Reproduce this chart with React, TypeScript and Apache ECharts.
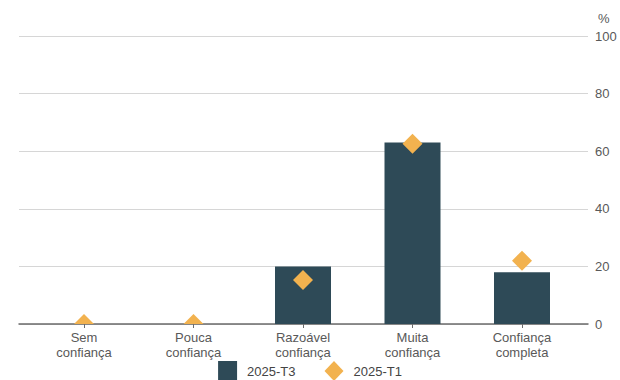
import React, { useEffect, useRef } from "react";
import * as echarts from "echarts";

const categories = ["Sem\nconfiança", "Pouca\nconfiança", "Razoável\nconfiança", "Muita\nconfiança", "Confiança\ncompleta"];
const seriesT3 = [0, 0, 20, 63, 18];
const seriesT1 = [0, 0, 15.3, 62.6, 22];
const yTicks = [0, 20, 40, 60, 80, 100];

const FONT = "'Liberation Sans', Arial, Helvetica, sans-serif";
const BAR_COLOR = "#2e4a57";
const DIAMOND_COLOR = "#f2b24f";
const TEXT_COLOR = "#595959";

export default function App() {
  const ref = useRef<HTMLDivElement>(null);
  useEffect(() => {
    if (!ref.current) return;
    const chart = echarts.init(ref.current, null, { renderer: "svg" });
    const t1Data = seriesT1.map((v, i) => [i, v]);
    chart.setOption({
      animation: false,
      textStyle: { fontFamily: FONT },
      grid: [
        { left: 19, right: 32, top: 36, bottom: 56 },
        { left: 29.25, right: 43.25, top: 36, bottom: 56 },
      ],
      legend: {
        top: 361,
        left: "center",
        padding: 0,
        itemWidth: 19,
        itemHeight: 20,
        itemGap: 29,
        textStyle: { fontFamily: FONT, fontSize: 13, color: "#444", padding: [0, 0, 0, 5] },
        data: [
          { name: "2025-T3", icon: "rect", itemStyle: { color: BAR_COLOR } },
          { name: "2025-T1", icon: "diamond", itemStyle: { color: DIAMOND_COLOR } },
        ],
      },
      xAxis: [
        {
          gridIndex: 0,
          type: "value",
          min: 0,
          max: 1,
          axisLine: { show: true, onZero: false, lineStyle: { color: "#6b6b6b", width: 1.5 } },
          axisTick: { show: false },
          axisLabel: { show: false },
          splitLine: { show: false },
        },
        {
          gridIndex: 1,
          type: "category",
          data: categories,
          axisLine: { show: false, onZero: false },
          axisTick: { show: true, alignWithLabel: true, length: 4, lineStyle: { color: "#6b6b6b" } },
          axisLabel: {
            color: TEXT_COLOR,
            fontSize: 13,
            lineHeight: 15,
            margin: 6,
            fontFamily: FONT,
            interval: 0,
          },
        },
      ],
      yAxis: [
        {
          gridIndex: 0,
          type: "value",
          position: "right",
          min: 0,
          max: 100,
          interval: 20,
          name: "%",
          nameLocation: "end",
          nameGap: 11,
          nameTextStyle: { color: TEXT_COLOR, fontSize: 13, align: "left", padding: [0, 0, 0, 10], fontFamily: FONT },
          axisLine: { show: false, onZero: false },
          axisTick: { show: false },
          axisLabel: {
            color: TEXT_COLOR,
            fontSize: 13,
            margin: 7,
            fontFamily: FONT,
            formatter: (v: number) => (yTicks.includes(v) ? String(v) : ""),
          },
          splitLine: { show: true, lineStyle: { color: "#d6d6d6", width: 1 } },
        },
        {
          gridIndex: 1,
          type: "value",
          min: 0,
          max: 100,
          interval: 20,
          show: false,
          axisLine: { onZero: false },
          splitLine: { show: false },
        },
      ],
      series: [
        {
          name: "2025-T3",
          type: "bar",
          xAxisIndex: 1,
          yAxisIndex: 1,
          data: seriesT3,
          barWidth: 56,
          itemStyle: { color: BAR_COLOR },
          z: 2,
        },
        {
          name: "2025-T1",
          type: "custom",
          xAxisIndex: 1,
          yAxisIndex: 1,
          clip: true,
          z: 5,
          data: t1Data,
          itemStyle: { color: DIAMOND_COLOR },
          renderItem: (params: any, api: any) => {
            const p = api.coord([api.value(0), api.value(1)]);
            const hw = 10;
            const hh = 10;
            return {
              type: "polygon",
              shape: {
                points: [
                  [p[0], p[1] - hh],
                  [p[0] + hw, p[1]],
                  [p[0], p[1] + hh],
                  [p[0] - hw, p[1]],
                ],
              },
              style: { fill: DIAMOND_COLOR },
            };
          },
        },
      ],
    });
    return () => chart.dispose();
  }, []);
  return (
    <div
      ref={ref}
      style={{ position: "absolute", left: 0, top: 0, width: 620, height: 380, background: "#fff" }}
    />
  );
}
